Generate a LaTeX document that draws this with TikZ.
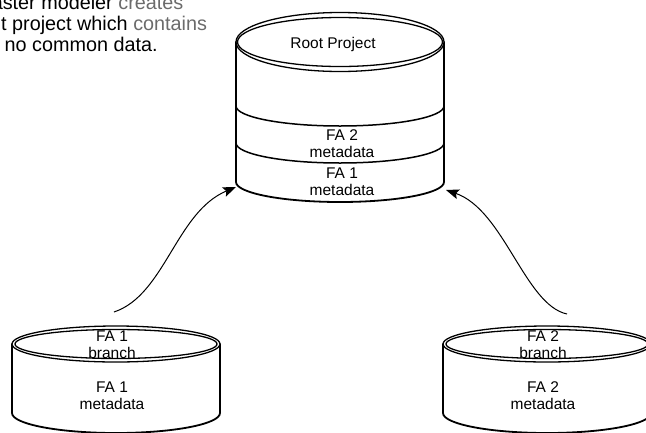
\documentclass[tikz,border=0pt]{standalone}
\usepackage{fontspec}
\setmainfont{Liberation Sans}
\usetikzlibrary{arrows.meta, positioning, calc}
\definecolor{notegray}{gray}{0.42}

\begin{document}
\begin{tikzpicture}[x=1pt, y=-1pt,
    side/.style={line width=1.8pt, line cap=round},
    band/.style={line width=1.5pt},
    rim/.style={line width=1.3pt},
    lbl/.style={align=center, inner sep=0pt, font=\fontsize{15.5}{17}\selectfont},
    note/.style={inner sep=0pt, font=\fontsize{19.8}{20.7}\selectfont},
    arr/.style={-{Stealth[length=13pt, width=10pt, inset=2.5pt]}, line width=1pt}]
  \useasboundingbox (0,0) rectangle (646,432);
  % note, cut off at the top left
  \node[note, anchor=base east] (note1) at (183.5,9) {aster modeler \textcolor{notegray}{creates}};
  \node[note, anchor=base west] (note2) at (1,30) {t project which \textcolor{notegray}{contains}};
  \node[note, anchor=base west] (note3) at (4.5,51) {no common data.};

  % root project
  \draw[side] (236,42) -- (236,182) arc[start angle=180, end angle=360, x radius=104pt, y radius=20pt] -- (444,42);
  \draw[band] (236,106) arc[start angle=180, end angle=360, x radius=104pt, y radius=20pt];
  \draw[band] (236,143) arc[start angle=180, end angle=360, x radius=104pt, y radius=20pt];
  \draw[rim, fill=white] (340,42) ellipse[x radius=104pt, y radius=29.5pt];
  \draw[rim] (340,42) ellipse[x radius=102.5pt, y radius=24.5pt];
  \node[lbl] (rootname) at (333,44) {Root Project};
  \node[lbl] (meta2) at (342,143.5) {FA 2\\metadata};
  \node[lbl] (meta1) at (342,182) {FA 1\\metadata};

  % branches
  \foreach \cx in {116,547} {
    \draw[side] (\cx-104,344) -- (\cx-104,413) arc[start angle=180, end angle=360, x radius=104pt, y radius=20pt] -- (\cx+104,344);
    \draw[rim, fill=white] (\cx,344) ellipse[x radius=104pt, y radius=18pt];
    \draw[rim] (\cx,344) ellipse[x radius=101pt, y radius=14.5pt];
  }
  \node[lbl] (br1) at (112,344.5) {FA 1\\branch};
  \node[lbl] (fa1meta) at (112,396) {FA 1\\metadata};
  \node[lbl] (br2) at (543,344.5) {FA 2\\branch};
  \node[lbl] (fa2meta) at (543,396) {FA 2\\metadata};

  \coordinate (fa1out) at (114,312);
  \coordinate (rootin1) at (236,187);
  \coordinate (fa2out) at (567,314);
  \coordinate (rootin2) at (446,190);
  \draw[arr] (fa1out) .. controls +(51,-17) and +(-60,25) .. (rootin1);
  \draw[arr] (fa2out) .. controls +(-42,-9) and +(58,20) .. (rootin2);
\end{tikzpicture}
\end{document}
